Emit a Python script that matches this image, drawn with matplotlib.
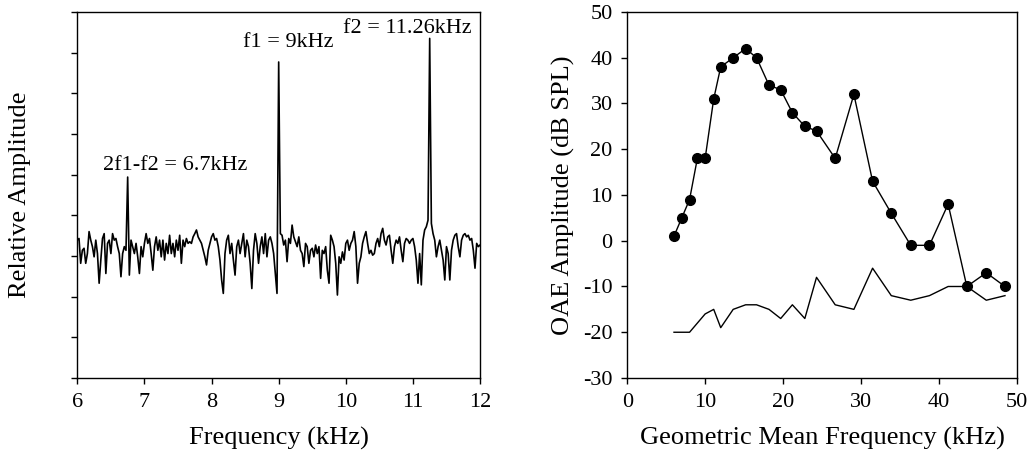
"""DPOAE spectrum and DP-gram, two panels side by side."""

import matplotlib
matplotlib.use("Agg")
import matplotlib.pyplot as plt
import numpy as np

plt.rcParams["font.family"] = ["Liberation Serif", "DejaVu Serif"]
plt.rcParams["axes.unicode_minus"] = False

# left panel: spectrum, 6-12 kHz in 0.025 kHz bins (241 bins)
SPEC_START, SPEC_STOP = 6.0, 12.0
spectrum = [
    # 6.0 - 7.0
    3.39, 3.43, 2.82, 3.14, 3.19, 2.82, 3.06, 3.60, 3.39, 3.23,
    2.98, 3.39, 3.06, 2.33, 2.90, 3.43, 3.55, 2.57, 3.31, 3.39,
    3.06, 3.55, 3.39, 3.43, 3.23, 3.06, 2.49, 3.06, 3.23, 3.14,
    4.94, 2.53, 3.39, 3.23, 3.06, 3.31, 2.98, 2.57, 3.23, 2.98,
    # 7.0 - 8.0
    3.31, 3.55, 3.31, 3.43, 3.06, 2.65, 3.23, 3.47, 3.14, 3.39,
    2.98, 3.39, 2.90, 3.31, 3.06, 3.51, 3.06, 3.31, 2.98, 3.39,
    3.14, 3.51, 2.82, 3.39, 3.23, 3.43, 3.31, 3.35, 3.31, 3.47,
    3.55, 3.64, 3.47, 3.39, 3.31, 3.14, 2.98, 2.78, 3.14, 3.31,
    # 8.0 - 9.0
    3.47, 3.55, 3.39, 3.43, 3.23, 2.90, 2.41, 2.08, 3.06, 3.39,
    3.51, 3.06, 3.31, 2.90, 2.53, 3.23, 3.39, 3.06, 3.31, 3.55,
    2.98, 3.39, 3.23, 2.82, 2.20, 3.14, 3.55, 3.31, 2.82, 3.23,
    3.47, 3.06, 3.55, 2.98, 3.39, 3.47, 3.31, 3.06, 2.57, 2.08,
    # 9.0 - 10.0
    7.77, 3.55, 3.51, 3.27, 3.39, 2.86, 3.43, 3.31, 3.76, 3.47,
    3.35, 3.23, 3.47, 3.14, 3.06, 2.74, 3.31, 3.23, 2.82, 3.14,
    3.19, 2.98, 3.27, 3.06, 3.23, 2.45, 3.14, 3.06, 3.23, 2.65,
    2.33, 3.51, 3.39, 3.23, 2.82, 2.04, 2.98, 2.82, 3.10, 2.90,
    # 10.0 - 11.0
    3.31, 3.39, 3.14, 3.31, 3.39, 3.60, 3.23, 2.33, 2.82, 2.98,
    3.31, 3.47, 3.60, 3.31, 3.06, 3.14, 3.02, 3.06, 3.31, 3.43,
    3.23, 3.55, 3.68, 3.39, 3.27, 3.47, 3.51, 3.14, 2.82, 3.23,
    3.39, 3.31, 3.47, 3.14, 2.86, 3.31, 3.43, 3.39, 3.31, 3.39,
    # 11.0 - 12.0
    3.43, 3.23, 2.90, 2.33, 3.06, 2.29, 3.39, 3.64, 3.72, 3.88,
    8.35, 3.80, 3.55, 3.39, 2.98, 3.23, 3.39, 3.14, 2.90, 2.41,
    3.23, 3.06, 2.41, 3.14, 3.39, 3.51, 3.55, 3.23, 2.98, 3.39,
    3.51, 3.55, 3.47, 3.51, 3.39, 3.43, 3.14, 2.70, 3.31, 3.23,
    3.27,
]
spec_xticks = [6, 7, 8, 9, 10, 11, 12]

peak_labels = ["2f1-f2 = 6.7kHz", "f1 = 9kHz", "f2 = 11.26kHz"]
peak_label_x = [7.46, 9.14, 10.92]
peak_label_y = [5.11, 8.13, 8.48]

# right panel: DP-gram
gm_freq = [6.0, 7.0, 8.0, 9.0, 10.0, 11.1, 12.0, 13.6, 15.2, 16.6,
           18.2, 19.7, 21.2, 22.8, 24.3, 26.7, 29.1, 31.5, 33.9, 36.4,
           38.8, 41.2, 43.6, 46.1, 48.5]
oae_level = [1, 5, 9, 18, 18, 31, 38, 40, 42, 40,
             34, 33, 28, 25, 24, 18, 32, 13, 6, -1,
             -1, 8, -10, -7, -10]
noise_level = [-20, -20, -20, -18, -16, -15, -19, -15, -14, -14,
               -15, -17, -14, -17, -8, -14, -15, -6, -12, -13,
               -12, -10, -10, -13, -12]

TICK_FS = 16
LABEL_FS = 19
NOTE_FS = 16

fig = plt.figure(figsize=(10.31, 4.63), dpi=100)
ax1 = fig.add_axes([0.075, 0.1836, 0.3906, 0.7905])
ax2 = fig.add_axes([0.6084, 0.1836, 0.3777, 0.7905])

freq = np.linspace(SPEC_START, SPEC_STOP, len(spectrum))
ax1.plot(freq, spectrum, color="black", linewidth=1.2)
for label, x, y in zip(peak_labels, peak_label_x, peak_label_y):
    ax1.text(x, y, label, ha="center", va="baseline", fontsize=NOTE_FS)
ax1.set_xlim(SPEC_START, SPEC_STOP)
ax1.set_ylim(0, 9)
ax1.set_xticks(spec_xticks)
ax1.set_yticks(range(0, 10))
ax1.set_yticklabels([])
ax1.set_xlabel("Frequency (kHz)", fontsize=LABEL_FS)
ax1.set_ylabel("Relative Amplitude", fontsize=LABEL_FS)
ax1.yaxis.set_label_coords(-0.115, 0.5)
ax1.xaxis.set_label_coords(0.5, -0.135)

ax2.plot(gm_freq, oae_level, color="black", linewidth=1.0, marker="o",
         markersize=7, markerfacecolor="black", markeredgecolor="black")
ax2.plot(gm_freq, noise_level, color="black", linewidth=1.0)
ax2.set_xlim(0, 50)
ax2.set_ylim(-30, 50)
ax2.set_xticks(range(0, 51, 10))
ax2.set_yticks(range(-30, 51, 10))
ax2.set_xlabel("Geometric Mean Frequency (kHz)", fontsize=LABEL_FS)
ax2.set_ylabel("OAE Amplitude (dB SPL)", fontsize=LABEL_FS)
ax2.yaxis.set_label_coords(-0.135, 0.5)
ax2.xaxis.set_label_coords(0.5, -0.135)

for ax in (ax1, ax2):
    ax.tick_params(direction="out", length=4.5, width=1.0, labelsize=TICK_FS,
                   color="black", pad=6)
    for spine in ax.spines.values():
        spine.set_linewidth(1.0)
        spine.set_color("black")

fig.savefig("out.png", dpi=100)
